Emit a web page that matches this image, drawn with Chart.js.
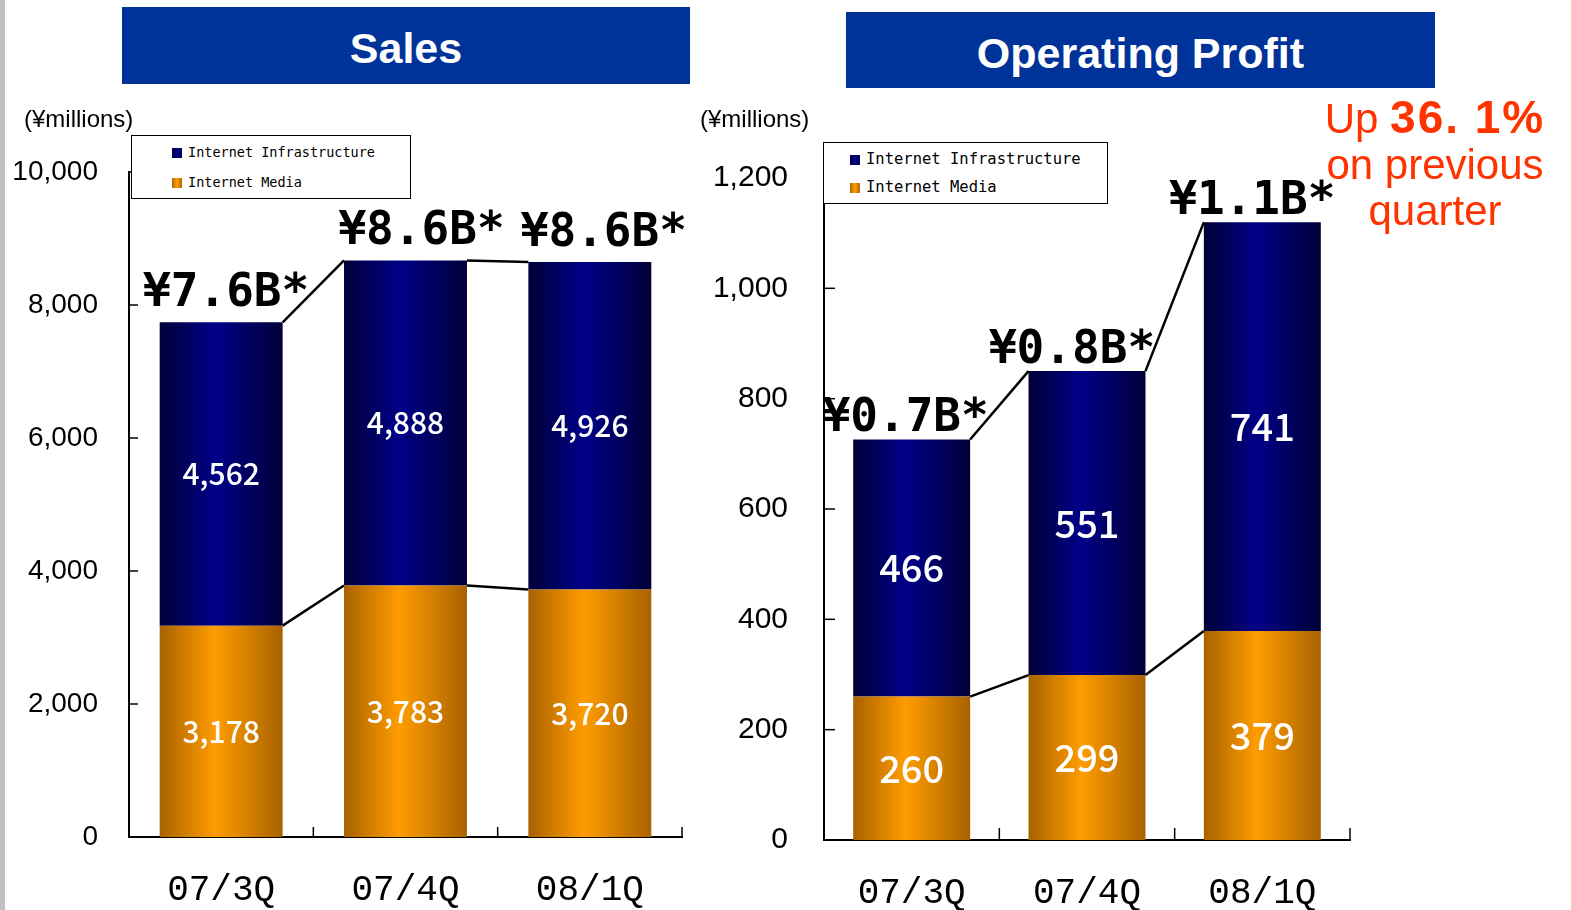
<!DOCTYPE html>
<html>
<head>
<meta charset="utf-8">
<script src="https://cdn.jsdelivr.net/npm/chart.js@4.4.1/dist/chart.umd.min.js"></script>
<style>
    body { margin: 0; background: #fff; }
    #page { position: relative; width: 1571px; height: 910px; overflow: hidden; font-family: "Liberation Sans", Arial, sans-serif; }
    .abs { position: absolute; }
    .strip { left: 0; top: 0; width: 5px; height: 910px; background: #c0c0c0; }
    .banner { background: #003399; color: #fff; font-weight: bold; font-size: 43px; text-align: center; }
    .unit { font-size: 24px; color: #000; line-height: 24px; }
    .legend { background: #fff; border: 1.5px solid #000; box-sizing: border-box; font-family: "DejaVu Sans Mono", monospace; color: #000; }
    .legend .row { position: absolute; white-space: nowrap; }
    .legend .sw { display: inline-block; width: 10px; height: 10px; margin-right: 6px; vertical-align: middle; }
    .sw.blue { background: linear-gradient(90deg, #000044, #000088, #000055); }
    .sw.orange { background: linear-gradient(90deg, #b06800, #ff9c00, #b06800); }
    .note { color: #ff3300; font-size: 42px; line-height: 46px; text-align: center; }
    canvas { position: absolute; top: 0; }
</style>
</head>
<body>
<div id="page">
    <div class="abs strip"></div>

    <div class="abs banner" style="left:122px;top:7px;width:568px;height:77px;line-height:82px;">Sales</div>
    <div class="abs banner" style="left:846px;top:12px;width:589px;height:76px;line-height:82px;">Operating Profit</div>

    <canvas id="sales" width="700" height="910" style="left:0;"></canvas>
    <canvas id="profit" width="871" height="910" style="left:700px;"></canvas>

    <div class="abs unit" style="left:24px;top:107px;">(¥millions)</div>
    <div class="abs unit" style="left:700px;top:107px;">(¥millions)</div>

    <div class="abs legend" style="left:131px;top:135px;width:280px;height:64px;font-size:13.5px;">
        <div class="row" style="left:40px;top:8px;"><span class="sw blue"></span>Internet Infrastructure</div>
        <div class="row" style="left:40px;top:38px;"><span class="sw orange"></span>Internet Media</div>
    </div>
    <div class="abs legend" style="left:823px;top:142px;width:285px;height:62px;font-size:15.5px;">
        <div class="row" style="left:26px;top:7px;"><span class="sw blue"></span>Internet Infrastructure</div>
        <div class="row" style="left:26px;top:35px;"><span class="sw orange"></span>Internet Media</div>
    </div>

    <div class="abs note" style="left:1300px;top:94px;width:270px;">
        <div>Up <b style="font-size:46px;letter-spacing:2px;">36.&nbsp;1%</b></div>
        <div>on previous</div>
        <div>quarter</div>
    </div>
</div>

<script>
'use strict';

const quarters = ['07/3Q', '07/4Q', '08/1Q'];

const salesMedia = [3178, 3783, 3720];
const salesInfra = [4562, 4888, 4926];
const salesTotals = ['¥7.6B*', '¥8.6B*', '¥8.6B*'];

const profitMedia = [260, 299, 379];
const profitInfra = [466, 551, 741];
const profitTotals = ['¥0.7B*', '¥0.8B*', '¥1.1B*'];

const salesAxis = { max: 10000, step: 2000 };
const profitAxis = { max: 1200, step: 200 };

const BAR_PCT = 0.667;

window.barFill = function (dark, mid) {
    return function (ctx) {
        let chart = ctx.chart;
        if (!chart.chartArea) {
            return mid;
        }
        let xs = chart.scales.x;
        let cx = xs.getPixelForValue(ctx.dataIndex);
        let half = xs.width / chart.data.labels.length * BAR_PCT / 2;
        let g = chart.ctx.createLinearGradient(cx - half, 0, cx + half, 0);
        g.addColorStop(0, dark);
        g.addColorStop(0.45, mid);
        g.addColorStop(1, dark);
        return g;
    };
};

// inward tick marks, connector lines, value and total labels
window.decorPlugin = function (cfg) {
    return {
        id: 'decor',
        afterDatasetsDraw: function (chart) {
            let ctx = chart.ctx;
            let area = chart.chartArea;
            let xs = chart.scales.x;
            let ys = chart.scales.y;
            ctx.save();
            ctx.strokeStyle = '#000';
            ctx.lineWidth = 1.5;

            ys.ticks.forEach(function (t) {
                if (t.value === 0) return;
                let y = ys.getPixelForValue(t.value);
                ctx.beginPath();
                ctx.moveTo(area.left, y);
                ctx.lineTo(area.left + cfg.yTick, y);
                ctx.stroke();
            });
            let n = chart.data.labels.length;
            for (let i = 0; i < n; i++) {
                let x = i < n - 1 ?
                    (xs.getPixelForValue(i) + xs.getPixelForValue(i + 1)) / 2 :
                    area.right;
                ctx.beginPath();
                ctx.moveTo(x, area.bottom);
                ctx.lineTo(x, area.bottom - cfg.xTick);
                ctx.stroke();
            }

            ctx.lineWidth = 2.5;
            chart.data.datasets.forEach(function (ds, di) {
                let els = chart.getDatasetMeta(di).data;
                for (let i = 0; i < els.length - 1; i++) {
                    let a = els[i], b = els[i + 1];
                    ctx.beginPath();
                    ctx.moveTo(a.x + a.width / 2, a.y);
                    ctx.lineTo(b.x - b.width / 2, b.y);
                    ctx.stroke();
                }
            });

            ctx.fillStyle = '#fff';
            ctx.textAlign = 'center';
            ctx.textBaseline = 'middle';
            ctx.font = cfg.valueFont;
            chart.data.datasets.forEach(function (ds, di) {
                chart.getDatasetMeta(di).data.forEach(function (el, i) {
                    ctx.fillText(ds.data[i].toLocaleString('en-US'), el.x, (el.y + el.base) / 2);
                });
            });

            ctx.fillStyle = '#000';
            ctx.font = 'bold 46px "DejaVu Sans Mono", monospace';
            let top = chart.getDatasetMeta(chart.data.datasets.length - 1).data;
            top.forEach(function (el, i) {
                ctx.fillText(cfg.totals[i], el.x + cfg.shift[i], el.y - cfg.lift);
            });
            ctx.restore();
        },
    };
};

window.makeStackChart = function (id, media, infra, axis, cfg) {
    let ctx = document.getElementById(id).getContext('2d');
    return new Chart(ctx, {
        type: 'bar',
        data: {
            labels: quarters,
            datasets: [
                {
                    label: 'Internet Media',
                    data: media,
                    backgroundColor: barFill('#a86200', '#ff9c00'),
                    barPercentage: BAR_PCT,
                    categoryPercentage: 1,
                },
                {
                    label: 'Internet Infrastructure',
                    data: infra,
                    backgroundColor: barFill('#000038', '#000088'),
                    barPercentage: BAR_PCT,
                    categoryPercentage: 1,
                }],
        },
        options: {
            responsive: false,
            animation: false,
            devicePixelRatio: 1,
            layout: { padding: cfg.padding },
            plugins: {
                legend: { display: false },
                tooltip: { enabled: false },
            },
            scales: {
                x: {
                    stacked: true,
                    grid: { display: false, drawTicks: false },
                    border: { display: true, color: '#000', width: 2 },
                    ticks: {
                        color: '#000',
                        padding: cfg.xPad,
                        font: { family: '"Liberation Mono", monospace', size: 36 },
                    },
                    afterFit: function (scale) { scale.height = cfg.xHeight; },
                },
                y: {
                    stacked: true,
                    min: 0,
                    max: axis.max,
                    grid: { display: false, drawTicks: false },
                    border: { display: true, color: '#000', width: 2 },
                    ticks: {
                        stepSize: axis.step,
                        color: '#000',
                        padding: cfg.yPad,
                        font: { family: '"Liberation Sans", Arial, sans-serif', size: cfg.yFont },
                    },
                    afterFit: function (scale) { scale.width = cfg.yWidth; },
                },
            },
        },
        plugins: [decorPlugin(cfg)],
    });
};

makeStackChart('sales', salesMedia, salesInfra, salesAxis, {
    padding: { top: 172, right: 18, left: 0, bottom: 0 },
    xHeight: 73, xPad: 32, yWidth: 129, yPad: 31, yFont: 28,
    yTick: 9, xTick: 10,
    valueFont: '500 30px "Noto Sans CJK JP", sans-serif',
    totals: salesTotals, shift: [5, 16, 14], lift: 28,
});

makeStackChart('profit', profitMedia, profitInfra, profitAxis, {
    padding: { top: 178, right: 221, left: 0, bottom: 0 },
    xHeight: 70, xPad: 32, yWidth: 124, yPad: 36, yFont: 30,
    yTick: 11, xTick: 12,
    valueFont: '500 38px "Noto Sans CJK JP", sans-serif',
    totals: profitTotals, shift: [-6, -15, -10], lift: 20,
});
</script>
</body>
</html>
